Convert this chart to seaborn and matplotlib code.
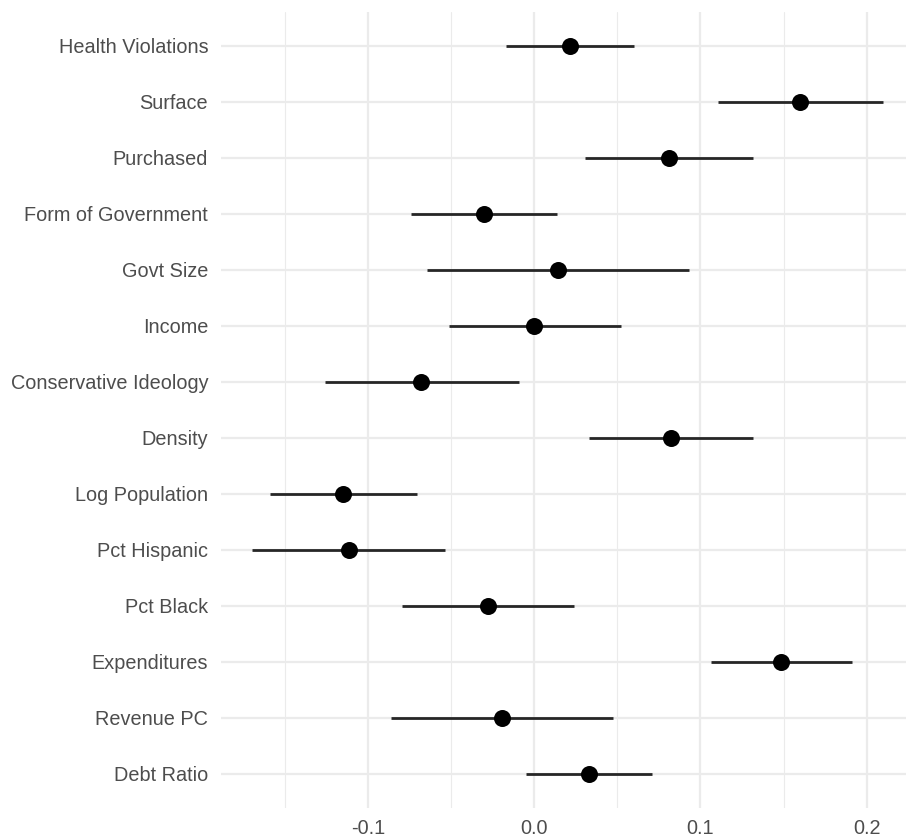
import matplotlib
matplotlib.use("Agg")
import matplotlib.pyplot as plt
import seaborn as sns
import pandas as pd
from matplotlib.ticker import MultipleLocator

terms = ["Health Violations", "Surface", "Purchased", "Form of Government",
         "Govt Size", "Income", "Conservative Ideology", "Density",
         "Log Population", "Pct Hispanic", "Pct Black", "Expenditures",
         "Revenue PC", "Debt Ratio"]
estimate = [0.0217, 0.160, 0.0809, -0.0304, 0.0142, -0.0004, -0.0679, 0.0822,
            -0.115, -0.1117, -0.0280, 0.1486, -0.0196, 0.0329]
conf_low = [-0.0170, 0.1105, 0.0305, -0.0742, -0.0648, -0.0516, -0.1261, 0.0329,
            -0.1589, -0.1697, -0.0798, 0.1061, -0.0865, -0.0050]
conf_high = [0.0602, 0.2096, 0.1318, 0.0137, 0.0931, 0.0519, -0.0093, 0.1316,
             -0.0708, -0.0538, 0.0240, 0.1912, 0.0473, 0.0706]
x_ticks = [-0.1, 0.0, 0.1, 0.2]
x_tick_labels = ["-0.1", "0.0", "0.1", "0.2"]

df = pd.DataFrame({"term": terms, "estimate": estimate,
                   "low": conf_low, "high": conf_high})

sns.set_theme(style="white")
plt.rcParams["font.family"] = ["Liberation Sans", "DejaVu Sans"]

W, H = 906, 836
fig = plt.figure(figsize=(W / 100, H / 100), dpi=100)
left_px, right_px = 220.7, 914.2
top_px, bot_px = 12.1, 807.6
ax = fig.add_axes([left_px / W, 1 - bot_px / H,
                   (right_px - left_px) / W, (bot_px - top_px) / H])

# intervals
ax.hlines(y=df["term"], xmin=df["low"], xmax=df["high"],
          color="#262626", linewidth=2.0, zorder=3)
sns.scatterplot(data=df, x="estimate", y="term", ax=ax, color="black",
                s=150, edgecolor="black", linewidth=0, zorder=4)

n = len(terms)
ax.set_ylim(n - 1 + 0.6, -0.6)
ax.set_xlim(-0.1887, 0.2286)

ax.set_xticks(x_ticks)
ax.set_xticklabels(x_tick_labels)
ax.xaxis.set_minor_locator(MultipleLocator(0.05))

ax.grid(which="major", axis="both", color="#EBEBEB", linewidth=1.6, zorder=0)
ax.grid(which="minor", axis="x", color="#EBEBEB", linewidth=0.8, zorder=0)
ax.set_axisbelow(True)
for s in ax.spines.values():
    s.set_visible(False)

ax.tick_params(axis="both", which="both", length=0, labelsize=14.3,
               labelcolor="#4D4D4D")
ax.tick_params(axis="y", pad=9)
ax.tick_params(axis="x", pad=8)
ax.set_xlabel("")
ax.set_ylabel("")

fig.savefig("out.png", dpi=100)
